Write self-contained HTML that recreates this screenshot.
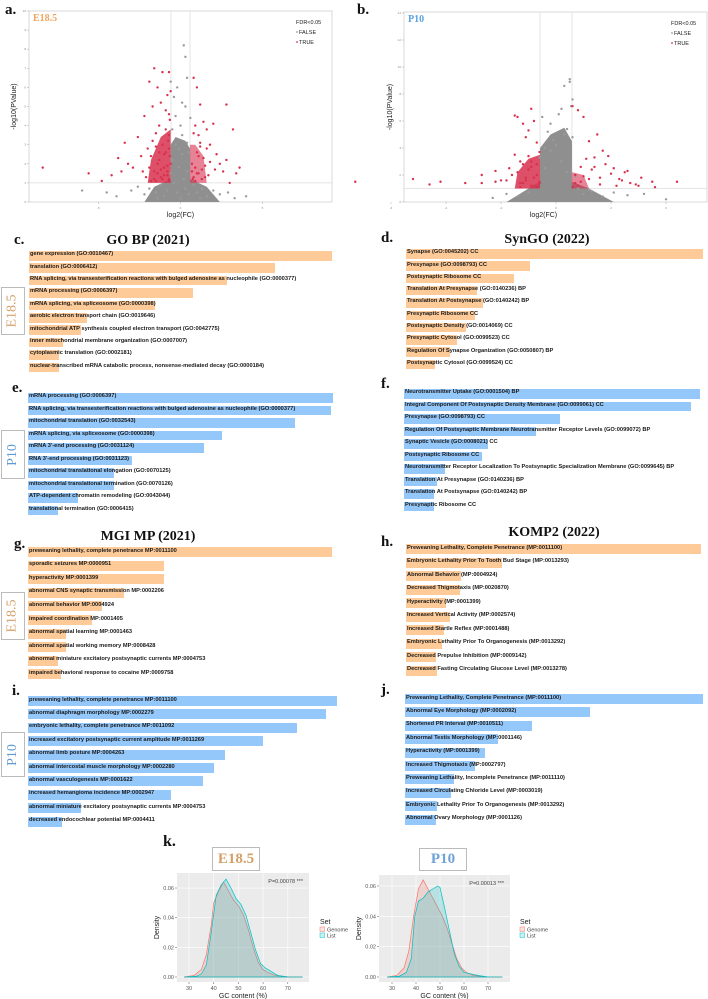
<!DOCTYPE html>
<html><head><meta charset="utf-8">
<style>
body{margin:0;background:#fff;width:708px;height:999px;position:relative;overflow:hidden;font-family:"Liberation Sans",sans-serif}
.abs{position:absolute}
.plabel{position:absolute;font-family:"Liberation Serif",serif;font-weight:bold;font-size:15px;color:#111}
.ptitle{position:absolute;font-family:"Liberation Serif",serif;font-weight:bold;font-size:14px;color:#111;transform:translateX(-50%);white-space:nowrap}
.bar{position:absolute}
.blab{position:absolute;font-size:5.7px;font-weight:bold;color:#1a1a1a;white-space:nowrap;line-height:1}
.sbox{position:absolute;border:1px solid #bbb;background:#fff;display:flex;align-items:center;justify-content:center}
.sbox span{transform:rotate(-90deg);font-family:"Liberation Serif",serif;font-size:14px;white-space:nowrap}
</style></head><body>
<svg id="svg" class="abs" style="left:0;top:0" width="708" height="999"></svg>

<div class="plabel" style="left:5px;top:2px">a.</div>
<div class="plabel" style="left:357px;top:2px">b.</div>
<div class="plabel" style="left:14px;top:232px">c.</div>
<div class="plabel" style="left:381px;top:230px">d.</div>
<div class="plabel" style="left:12px;top:380px">e.</div>
<div class="plabel" style="left:381px;top:376px">f.</div>
<div class="plabel" style="left:14px;top:536px">g.</div>
<div class="plabel" style="left:381px;top:534px">h.</div>
<div class="plabel" style="left:12px;top:683px">i.</div>
<div class="plabel" style="left:381px;top:682px">j.</div>
<div class="plabel" style="left:163px;top:833px;font-size:16px">k.</div>

<div class="ptitle" style="left:148px;top:233px">GO BP (2021)</div>
<div class="ptitle" style="left:547px;top:232px">SynGO (2022)</div>
<div class="ptitle" style="left:148px;top:529px">MGI MP (2021)</div>
<div class="ptitle" style="left:554px;top:525px">KOMP2 (2022)</div>

<div class="sbox" style="left:1px;top:287px;width:22px;height:46px"><span style="color:#d4a06a">E18.5</span></div>
<div class="sbox" style="left:1px;top:430px;width:22px;height:47px"><span style="color:#5f9bd2">P10</span></div>
<div class="sbox" style="left:1px;top:592px;width:22px;height:46px"><span style="color:#d4a06a">E18.5</span></div>
<div class="sbox" style="left:1px;top:732px;width:22px;height:43px"><span style="color:#5f9bd2">P10</span></div>

<div class="sbox" style="left:212px;top:847px;width:46px;height:22px"><b style="font-family:'Liberation Serif',serif;font-size:15px;color:#d4a06a">E18.5</b></div>
<div class="sbox" style="left:419px;top:848px;width:46px;height:21px"><b style="font-family:'Liberation Serif',serif;font-size:15px;color:#6fa2d6">P10</b></div>

<div id="bars"></div>

<script>
// ---------- bar chart data ----------
const cLabels=["gene expression (GO:0010467)","translation (GO:0006412)","RNA splicing, via transesterification reactions with bulged adenosine as nucleophile (GO:0000377)","mRNA processing (GO:0006397)","mRNA splicing, via spliceosome (GO:0000398)","aerobic electron transport chain (GO:0019646)","mitochondrial ATP synthesis coupled electron transport (GO:0042775)","inner mitochondrial membrane organization (GO:0007007)","cytoplasmic translation (GO:0002181)","nuclear-transcribed mRNA catabolic process, nonsense-mediated decay (GO:0000184)"];
const cValues=[303,246,198,164,126,58,52,34,30,30];
const dLabels=["Synapse (GO:0045202) CC","Presynapse (GO:0098793) CC","Postsynaptic Ribosome CC","Translation At Presynapse (GO:0140236) BP","Translation At Postsynapse (GO:0140242) BP","Presynaptic Ribosome CC","Postsynaptic Density (GO:0014069) CC","Presynaptic Cytosol (GO:0099523) CC","Regulation Of Synapse Organization (GO:0050807) BP","Postsynaptic Cytosol (GO:0099524) CC"];
const dValues=[297,124,108,71,77,69,60,51,44,29];
const eLabels=["mRNA processing (GO:0006397)","RNA splicing, via transesterification reactions with bulged adenosine as nucleophile (GO:0000377)","mitochondrial translation (GO:0032543)","mRNA splicing, via spliceosome (GO:0000398)","mRNA 3'-end processing (GO:0031124)","RNA 3'-end processing (GO:0031123)","mitochondrial translational elongation (GO:0070125)","mitochondrial translational termination (GO:0070126)","ATP-dependent chromatin remodeling (GO:0043044)","translational termination (GO:0006415)"];
const eValues=[305,303,267,194,176,104,86,86,50,30];
const fLabels=["Neurotransmitter Uptake (GO:0001504) BP","Integral Component Of Postsynaptic Density Membrane (GO:0099061) CC","Presynapse (GO:0098793) CC","Regulation Of Postsynaptic Membrane Neurotransmitter Receptor Levels (GO:0099072) BP","Synaptic Vesicle (GO:0008021) CC","Postsynaptic Ribosome CC","Neurotransmitter Receptor Localization To Postsynaptic Specialization Membrane (GO:0099645) BP","Translation At Presynapse (GO:0140236) BP","Translation At Postsynapse (GO:0140242) BP","Presynaptic Ribosome CC"];
const fValues=[296,287,156,132,84,78,41,33,30,30];
const gLabels=["preweaning lethality, complete penetrance MP:0011100","sporadic seizures MP:0000951","hyperactivity MP:0001399","abnormal CNS synaptic transmission MP:0002206","abnormal behavior MP:0004924","impaired coordination MP:0001405","abnormal spatial learning MP:0001463","abnormal spatial working memory MP:0008428","abnormal miniature excitatory postsynaptic currents MP:0004753","impaired behavioral response to cocaine MP:0009758"];
const gValues=[304,136,136,96,74,64,38,38,30,33];
const hLabels=["Preweaning Lethality, Complete Penetrance (MP:0011100)","Embryonic Lethality Prior To Tooth Bud Stage (MP:0013293)","Abnormal Behavior (MP:0004924)","Decreased Thigmotaxis (MP:0020870)","Hyperactivity (MP:0001399)","Increased Vertical Activity (MP:0002574)","Increased Startle Reflex (MP:0001488)","Embryonic Lethality Prior To Organogenesis (MP:0013292)","Decreased Prepulse Inhibition (MP:0009142)","Decreased Fasting Circulating Glucose Level (MP:0013278)"];
const hValues=[295,96,55,54,40,44,38,36,30,31];
const iLabels=["preweaning lethality, complete penetrance MP:0011100","abnormal diaphragm morphology MP:0002279","embryonic lethality, complete penetrance MP:0011092","increased excitatory postsynaptic current amplitude MP:0011269","abnormal limb posture MP:0004263","abnormal intercostal muscle morphology MP:0002280","abnormal vasculogenesis MP:0001622","increased hemangioma incidence MP:0002947","abnormal miniature excitatory postsynaptic currents MP:0004753","decreased endocochlear potential MP:0004411"];
const iValues=[309,298,269,235,197,186,175,143,53,34];
const jLabels=["Preweaning Lethality, Complete Penetrance (MP:0011100)","Abnormal Eye Morphology (MP:0002092)","Shortened PR Interval (MP:0010511)","Abnormal Testis Morphology (MP:0001146)","Hyperactivity (MP:0001399)","Increased Thigmotaxis (MP:0002797)","Preweaning Lethality, Incomplete Penetrance (MP:0011110)","Increased Circulating Chloride Level (MP:0003019)","Embryonic Lethality Prior To Organogenesis (MP:0013292)","Abnormal Ovary Morphology (MP:0001126)"];
const jValues=[298,185,127,93,80,70,49,46,32,31];

const ORANGE="#fdca98", BLUE="#95c8fa";
const host=document.getElementById('bars');
function drawBars(name,labels,values,left,top,pitch,fullW,h,color){
  const maxV=Math.max(...values);
  const x=v=>v/maxV*fullW;
  labels.forEach((lab,i)=>{
    const y=top+i*pitch;
    const b=document.createElement('div');
    b.className='bar';
    b.style.cssText=`left:${left}px;top:${y}px;width:${x(values[i])}px;height:${h}px;background:${color}`;
    
    
    host.appendChild(b);
    const t=document.createElement('div');
    t.className='blab';
    t.style.cssText=`left:${left+1}px;top:${y+h/2-3.5}px`;
    t.textContent=lab;
    
    
    host.appendChild(t);
  });
}
drawBars('go-bp',cLabels,cValues,29,251,12.4,303,9.5,ORANGE);
drawBars('syngo-e18',dLabels,dValues,406,249,12.3,297,9.5,ORANGE);
drawBars('go-bp-p10',eLabels,eValues,28,393,12.5,305,9.5,BLUE);
drawBars('syngo-p10',fLabels,fValues,404,389,12.5,296,9.5,BLUE);
drawBars('mgi-e18',gLabels,gValues,28,547,13.6,304,10,ORANGE);
drawBars('komp2-e18',hLabels,hValues,406,544,13.5,295,10,ORANGE);
drawBars('mgi-p10',iLabels,iValues,28,696,13.4,309,10,BLUE);
drawBars('komp2-p10',jLabels,jValues,405,694,13.4,298,10,BLUE);

// ---------- volcano data ----------
const aRedX=[-8.4,-5.6,-4.8,-4.2,-3.8,-3.6,-3.4,-3.2,-2.9,-2.6,-2.4,-2.2,-2.0,-1.9,-1.7,-1.6,-1.5,-1.4,-1.3,-1.2,-1.1,-1.0,-0.9,-0.8,-0.7,-0.7,-0.65,-0.6,-0.6,-2.1,-1.9,-1.8,-1.6,-1.5,-1.4,-1.3,-1.2,-1.1,-1.0,-0.9,-0.8,-0.75,-0.7,-0.65,-1.8,-1.6,-1.4,-1.2,-1.0,-0.8,-0.7,-2.3,-1.7,-1.3,-0.9,-0.7,-1.5,-1.1,-0.8,-0.7,0.8,1.0,1.1,1.2,1.4,1.6,1.8,2.0,2.2,2.4,2.6,2.8,3.0,3.4,3.6,2.8,3.2,0.7,0.8,0.9,1.0,1.1,1.2,1.3,1.4,1.5,1.6,1.7,0.7,0.9,1.1,1.3,1.5,0.8,1.0,1.2,0.75,0.9,1.8,2.1];
const aRedY=[1.8,1.5,1.1,1.4,2.3,1.6,3.1,2.0,1.8,3.4,2.4,4.5,2.8,6.3,5.0,7.0,3.6,6.0,4.0,5.2,6.8,2.5,4.8,5.6,3.5,6.8,4.3,5.8,2.0,1.3,1.8,2.4,1.2,2.9,1.5,2.2,1.7,3.0,1.4,2.6,1.9,3.2,1.2,2.4,1.1,1.6,2.0,1.3,1.8,1.4,2.8,1.6,3.2,2.6,3.8,4.6,1.1,1.2,1.6,1.1,6.5,6.0,3.5,5.1,4.2,3.8,3.0,4.1,2.5,2.0,1.6,2.2,1.0,1.5,1.8,5.1,3.8,2.0,1.3,1.8,2.6,1.5,3.1,1.2,2.3,1.9,2.8,1.4,1.6,1.1,2.4,1.7,1.3,3.6,1.5,2.9,1.2,4.0,2.1,1.7];
const aGrayX=[-6.0,-4.5,-3.9,-3.0,-2.6,-2.2,-1.9,-1.5,-1.2,-1.0,-0.8,-0.6,-0.5,-0.4,-0.3,-0.2,-0.1,0,0.1,0.2,0.3,0.4,0.5,0.6,0.8,1.0,1.3,1.6,2.0,2.4,2.9,3.3,4.0,-0.5,-0.3,-0.1,0.1,0.3,0.5,-0.4,0,0.4,0.2,0.3,0.4,-0.2,0.1,0.6,-0.6,-1.4,1.2];
const aGrayY=[0.6,0.5,0.3,0.6,0.8,0.4,0.7,0.5,0.9,0.3,0.6,1.5,2.2,1.0,3.0,0.5,1.8,0.2,2.5,1.2,0.7,1.6,0.4,2.0,0.9,0.5,0.7,0.3,0.6,0.4,0.5,0.2,0.3,3.8,4.5,2.8,3.5,5.0,2.6,5.5,4.0,3.1,8.2,7.6,6.5,6.0,5.2,4.4,6.3,0.2,0.2];
const aCoreX=[-2.2,-1.6,-0.6,-0.6,-0.3,0.3,0.58,0.58,1.6,2.4];
const aCoreY=[0,0.8,1.2,3.0,3.4,3.2,2.8,1.2,0.8,0];
const aSigLX=[-2.0,-0.6,-0.6,-1.2,-1.8];
const aSigLY=[1.0,1.0,3.8,3.4,2.2];
const aSigRX=[0.58,1.6,1.4,0.9,0.58];
const aSigRY=[1.0,1.0,2.4,3.0,3.0];
const bRedX=[-7.3,-5.2,-4.6,-4.2,-3.3,-2.7,-2.7,-2.2,-2.2,-1.8,-1.7,-1.5,-1.4,-1.3,-1.2,-1.1,-1.0,-0.9,-0.8,-0.7,-0.6,-2.0,-1.6,-1.5,-1.3,-1.2,-1.1,-1.0,-0.9,-0.8,-0.7,-0.6,-1.4,-1.2,-1.0,-0.8,-0.7,-1.1,-0.9,-0.7,-1.3,-0.9,-0.6,0.6,0.8,1.0,1.2,1.4,1.5,1.7,1.9,2.1,2.3,2.5,2.7,2.9,3.1,3.5,4.4,0.7,0.9,1.1,1.3,1.6,1.8,2.0,2.2,0.6,0.7,0.9,1.2,1.4,0.8,1.0,1.6,2.4,2.6,3.0,3.6];
const bRedY=[1.5,1.7,1.3,1.5,1.4,1.4,2.0,1.5,2.3,1.6,2.5,6.4,6.3,3.0,5.8,4.8,5.3,6.9,6.0,2.8,3.7,1.6,2.0,3.5,1.4,2.8,1.8,2.4,3.0,1.2,4.4,1.5,2.2,1.4,3.4,1.8,1.1,1.6,2.6,2.0,1.1,1.2,1.4,7.1,6.8,6.3,4.5,2.6,5.0,3.8,3.4,2.5,1.7,2.2,1.4,1.3,1.8,1.5,1.5,2.0,1.5,3.2,2.4,1.8,2.8,2.1,1.2,1.1,1.4,2.6,1.7,3.3,1.2,1.9,1.3,1.6,2.3,1.2,1.1];
const bGrayX=[-2.3,-1.8,-1.4,-1.0,-0.8,-0.6,-0.4,-0.2,0,0.2,0.4,0.6,0.8,1.0,1.3,1.7,2.1,2.6,3.2,4.0,-0.3,-0.1,0.1,0.3,0.5,0.6,-0.5,-0.2,0.2,0.4,0.5,0.55,0.3,0.7,1.2,-0.6,-0.4];
const bGrayY=[0.3,0.6,0.4,0.7,1.2,1.5,2.5,3.8,4.2,3.0,2.2,4.8,1.0,0.6,0.8,0.4,0.7,0.5,0.6,0.2,5.2,4.6,6.5,8.6,8.9,7.6,6.3,5.8,6.9,5.4,9.1,7.1,5.0,1.9,0.9,3.3,4.0];
const bCoreX=[-1.8,-1.0,-0.58,-0.58,-0.2,0.3,0.58,0.58,1.2,2.1];
const bCoreY=[0,1.0,1.5,4.0,5.0,5.5,4.5,1.5,1.0,0];
const bSigLX=[-1.5,-0.58,-0.58,-1.0,-1.4];
const bSigLY=[1.0,1.0,3.5,3.2,2.2];
const bSigRX=[0.58,1.2,1.0,0.58];
const bSigRY=[1.0,1.0,2.0,2.2];

// ---------- density data ----------
const gcE_genomeX=[28,32,35,37,39,40,42,44,46,48,50,52,54,56,58,60,62,65,70,76];
const gcE_genomeY=[0,0.001,0.005,0.015,0.035,0.05,0.058,0.064,0.058,0.052,0.048,0.042,0.032,0.02,0.01,0.005,0.003,0.001,0.0002,0];
const gcE_listX=[28,33,35,37,39,41,43,45,47,49,51,53,55,57,59,61,63,66,70,76];
const gcE_listY=[0,0.0005,0.002,0.008,0.03,0.055,0.062,0.066,0.06,0.053,0.049,0.042,0.03,0.018,0.009,0.006,0.004,0.001,0,0];
const gcP_genomeX=[28,32,35,37,39,41,43,45,47,49,51,53,55,57,59,61,64,70,76];
const gcP_genomeY=[0,0.001,0.006,0.017,0.04,0.058,0.064,0.058,0.052,0.046,0.04,0.032,0.022,0.012,0.006,0.003,0.001,0,0];
const gcP_listX=[28,33,36,38,39.5,41,43,45,47,49,50,52,54,56,58,60,63,66,70,76];
const gcP_listY=[0,0.0005,0.003,0.012,0.04,0.05,0.052,0.056,0.058,0.06,0.059,0.045,0.03,0.015,0.007,0.003,0.002,0.001,0,0];
const gcTicks=[30,40,50,60,70];
const densTicks=[0,0.02,0.04,0.06];
const densTickLabels=["0.00","0.02","0.04","0.06"];

const NS="http://www.w3.org/2000/svg";
const svg=document.getElementById('svg');
function el(tag,attrs,parent,text){
  const e=document.createElementNS(NS,tag);
  for(const k in attrs)e.setAttribute(k,attrs[k]);
  if(text!==undefined)e.textContent=text;
  (parent||svg).appendChild(e);return e;
}

function volcano(id,box,x0,sx,y0,sy,xTicks,yTicks,grayX,grayY,redX,redY,coreX,coreY,sLX,sLY,sRX,sRY,title,titleColor,labX,labY){
  const g=el('g',{});
  
  
  const X=v=>x0+v*sx, Y=v=>y0-v*sy;
  const poly=(xs,ys)=>xs.map((v,i)=>X(v)+','+Y(ys[i])).join(' ');
  el('rect',{x:box[0],y:box[1],width:box[2]-box[0],height:box[3]-box[1],fill:'#fff',stroke:'#d0d0d0','stroke-width':0.8},g);
  xTicks.forEach(t=>{el('line',{x1:X(t),x2:X(t),y1:box[3],y2:box[3]+2,stroke:'#aaa','stroke-width':0.5},g);
    el('text',{x:X(t),y:box[3]+7,'font-size':3,'text-anchor':'middle',fill:'#888'},g,String(t));});
  yTicks.forEach(t=>{el('line',{x1:box[0]-2,x2:box[0],y1:Y(t),y2:Y(t),stroke:'#aaa','stroke-width':0.5},g);
    el('text',{x:box[0]-3,y:Y(t)+1,'font-size':3,'text-anchor':'end',fill:'#888'},g,String(t));});
  el('line',{x1:X(-0.58),x2:X(-0.58),y1:box[1],y2:box[3],stroke:'#ddd','stroke-width':0.8},g);
  el('line',{x1:X(0.58),x2:X(0.58),y1:box[1],y2:box[3],stroke:'#ddd','stroke-width':0.8},g);
  el('line',{x1:box[0],x2:box[2],y1:Y(1),y2:Y(1),stroke:'#ddd','stroke-width':0.8},g);
  const core=el('polygon',{points:poly(coreX,coreY),fill:'#8f8f8f'},g);
  
  
  const sl=el('polygon',{points:poly(sLX,sLY),fill:'#d8304e',opacity:0.85},g);
  
  
  const sr=el('polygon',{points:poly(sRX,sRY),fill:'#d8304e',opacity:0.6},g);
  
  
  grayX.forEach((v,i)=>{const c=el('circle',{cx:X(v),cy:Y(grayY[i]),r:1.2,fill:'#9a9a9a'},g);
    
    });
  redX.forEach((v,i)=>{const c=el('circle',{cx:X(v),cy:Y(redY[i]),r:1.2,fill:'#d8304e'},g);
    
    });
  const t=el('text',{x:box[0]+4,y:box[1]+10,'font-size':10,'font-weight':'bold','font-family':'Liberation Serif, serif',fill:titleColor},g,title);
  
  
  const lx=box[2]-36;
  el('text',{x:lx,y:box[1]+13,'font-size':5.5,fill:'#222'},g,'FDR<0.05');
  el('circle',{cx:lx+1,cy:box[1]+21,r:0.9,fill:'#999'},g);
  el('text',{x:lx+3,y:box[1]+23,'font-size':5.5,fill:'#222'},g,'FALSE');
  el('circle',{cx:lx+1,cy:box[1]+31,r:0.9,fill:'#d8304e'},g);
  el('text',{x:lx+3,y:box[1]+33,'font-size':5.5,fill:'#222'},g,'TRUE');
  const xl=el('text',{x:(box[0]+box[2])/2+labX,y:box[3]+15,'font-size':7,'text-anchor':'middle',fill:'#222'},g,'log2(FC)');
  
  
  const yl=el('text',{x:0,y:0,'font-size':7,'text-anchor':'middle',fill:'#222',transform:`translate(${box[0]+labY},${(box[1]+box[3])/2}) rotate(-90)`},g,'-log10(PValue)');
  
  
}
volcano('e18-5',[29,11,332,202],180.5,16.4,202,19.1,[-5,0,5],[0,1,2,3,4,5,6,7,8,9,10],aGrayX,aGrayY,aRedX,aRedY,aCoreX,aCoreY,aSigLX,aSigLY,aSigRX,aSigRY,'E18.5','#f0a55e',0,-13);
volcano('p10',[404,12,707,202],556,27.5,202,13.5,[-6,-4,-2,0,2,4,6],[0,2,4,6,8,10,12,14],bGrayX,bGrayY,bRedX,bRedY,bCoreX,bCoreY,bSigLX,bSigLY,bSigRX,bSigRY,'P10','#5aa2e0',-12,-12);

function density(id,box,xPerUnit,xRef,yZero,yPer,gX,gY,lX,lY,pText,legX){
  const g=el('g',{});
  
  
  const X=v=>xRef+(v-30)*xPerUnit, Y=v=>yZero-v*yPer;
  el('rect',{x:box[0],y:box[1],width:box[2]-box[0],height:box[3]-box[1],fill:'#ebebeb'},g);
  gcTicks.forEach(t=>{el('line',{x1:X(t),x2:X(t),y1:box[1],y2:box[3],stroke:'#fff','stroke-width':0.6},g);
    el('line',{x1:X(t),x2:X(t),y1:box[3],y2:box[3]+2,stroke:'#555','stroke-width':0.5},g);
    el('text',{x:X(t),y:box[3]+8,'font-size':5.5,'text-anchor':'middle',fill:'#555'},g,String(t));});
  densTicks.forEach((t,i)=>{el('line',{x1:box[0],x2:box[2],y1:Y(t),y2:Y(t),stroke:'#fff','stroke-width':0.6},g);
    el('line',{x1:box[0]-2,x2:box[0],y1:Y(t),y2:Y(t),stroke:'#555','stroke-width':0.5},g);
    el('text',{x:box[0]-3,y:Y(t)+2,'font-size':5.5,'text-anchor':'end',fill:'#555'},g,densTickLabels[i]);});
  function curve(xs,ys,stroke,fill,nm){
    let d='M'+X(xs[0])+','+Y(0);
    xs.forEach((v,i)=>d+=' L'+X(v)+','+Y(ys[i]));
    d+=' L'+X(xs[xs.length-1])+','+Y(0)+' Z';
    const p=el('path',{d:d,fill:fill,'fill-opacity':0.22,stroke:stroke,'stroke-width':0.7},g);
    
    
  }
  curve(gX,gY,'#f8766d','#f8766d','genome');
  curve(lX,lY,'#00bfc4','#00bfc4','list');
  el('text',{x:box[2]-6,y:box[1]+10,'font-size':5.5,'text-anchor':'end',fill:'#444'},g,pText);
  const xl=el('text',{x:(box[0]+box[2])/2,y:box[3]+16,'font-size':7,'text-anchor':'middle',fill:'#222'},g,'GC content (%)');
  
  
  const yl=el('text',{x:0,y:0,'font-size':7,'text-anchor':'middle',fill:'#222',transform:`translate(${box[0]-18},${(box[1]+box[3])/2}) rotate(-90)`},g,'Density');
  
  
  const lg=el('g',{},g);
  
  
  el('text',{x:legX,y:924,'font-size':7,fill:'#222'},lg,'Set');
  el('rect',{x:legX,y:927,width:4.5,height:4.5,fill:'#f8766d','fill-opacity':0.2,stroke:'#f8766d','stroke-width':0.5},lg);
  el('text',{x:legX+7,y:931.5,'font-size':5.5,fill:'#444'},lg,'Genome');
  el('rect',{x:legX,y:933,width:4.5,height:4.5,fill:'#00bfc4','fill-opacity':0.2,stroke:'#00bfc4','stroke-width':0.5},lg);
  el('text',{x:legX+7,y:937.5,'font-size':5.5,fill:'#444'},lg,'List');
}
density('gc-e18-5',[177,873,309,982],2.47,189,977,1483,gcE_genomeX,gcE_genomeY,gcE_listX,gcE_listY,'P=0.00078 ***',320);
density('gc-p10',[379,875,510,982],2.4,392,977,1517,gcP_genomeX,gcP_genomeY,gcP_listX,gcP_listY,'P=0.00013 ***',520);
</script>
</body></html>
